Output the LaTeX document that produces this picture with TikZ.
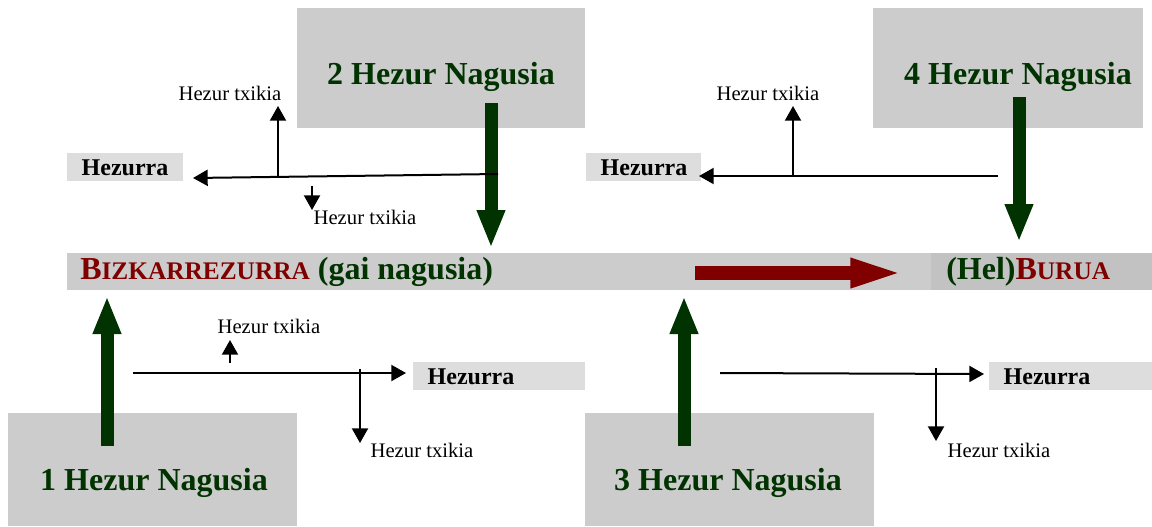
\documentclass[tikz,border=0pt]{standalone}
\usepackage{fontspec}
\setmainfont{Liberation Serif}
\usetikzlibrary{arrows.meta,fit}
\definecolor{boxgray}{HTML}{CCCCCC}
\definecolor{hezgray}{HTML}{DDDDDD}
\definecolor{headgray}{HTML}{C2C2C2}
\definecolor{dgreen}{HTML}{003300}
\definecolor{dred}{HTML}{800000}
\newcommand\fakesc[2]{#1{\fontsize{19}{20}\selectfont #2}}
\begin{document}
\begin{tikzpicture}[x=0.75pt,y=-0.75pt,
  bigbox/.style={fill=boxgray, draw=none, inner sep=0pt},
  hezbox/.style={fill=hezgray, draw=none, inner sep=0pt},
  bigtext/.style={text=dgreen, font=\fontsize{24}{28}\selectfont\bfseries, inner sep=0pt},
  twiglabel/.style={font=\fontsize{15.5}{18}\selectfont, inner sep=0pt},
  heztext/.style={font=\fontsize{18}{20}\selectfont\bfseries, inner sep=0pt},
  spinetext/.style={font=\fontsize{24}{28}\selectfont\bfseries, inner sep=0pt, anchor=base west},
  bone/.style={line width=9.75pt, draw=dgreen, -{Triangle[width=19.5pt,length=28.5pt,fill=dgreen]}},
  headarrow/.style={line width=10pt, draw=dred, -{Triangle[width=19.5pt,length=41pt,fill=dred]}},
  twig/.style={line width=1.5pt, draw=black, -{Triangle[width=12pt,length=11pt]}},
]
\useasboundingbox (0,0) rectangle (1152,526);

% spine band
\node[bigbox, fit={(67,253) (1152,290)}] (spine) {};
\node[fill=headgray, draw=none, inner sep=0pt, fit={(931,253) (1152,290)}] (head) {};
\node[spinetext] (spinelabel) at (80,279) {\textcolor{dred}{\fakesc{B}{IZKARREZURRA}} \textcolor{dgreen}{(gai nagusia)}};
\node[spinetext] (headlabel) at (946,279) {\textcolor{dgreen}{(Hel)}\textcolor{dred}{\fakesc{B}{URUA}}};

% main bone boxes
\node[bigbox, fit={(297,8) (585,128)}] (b2) {};
\node[bigbox, fit={(873,8) (1143,128)}] (b4) {};
\node[bigbox, fit={(8,413) (297,526)}] (b1) {};
\node[bigbox, fit={(585,413) (874,526)}] (b3) {};
\node[bigtext] (t2) at (441,77) {2 Hezur Nagusia};
\node[bigtext] (t4) at (1018,77) {4 Hezur Nagusia};
\node[bigtext] (t1) at (154,483) {1 Hezur Nagusia};
\node[bigtext] (t3) at (728,483) {3 Hezur Nagusia};

% Hezurra boxes
\node[hezbox, fit={(67,153) (183,181)}] (h2) {};
\node[hezbox, fit={(586,153) (701,181)}] (h4) {};
\node[hezbox, fit={(413,362) (585,390)}] (h1) {};
\node[hezbox, fit={(989,362) (1152,390)}] (h3) {};
\node[heztext] at (125,168) {Hezurra};
\node[heztext] at (644,168) {Hezurra};
\node[heztext] at (471,377) {Hezurra};
\node[heztext] at (1047,377) {Hezurra};

% small bone labels
\node[twiglabel] (s2a) at (230,93) {Hezur txikia};
\node[twiglabel] (s2b) at (365,217) {Hezur txikia};
\node[twiglabel] (s4a) at (768,93) {Hezur txikia};
\node[twiglabel] (s1a) at (269,326) {Hezur txikia};
\node[twiglabel] (s1b) at (422,450) {Hezur txikia};
\node[twiglabel] (s3a) at (999,450) {Hezur txikia};

% coordinates
\coordinate (g2s) at (491,103); \coordinate (g2e) at (491,248);
\coordinate (g4s) at (1019,97); \coordinate (g4e) at (1019,242);
\coordinate (g1s) at (107,446); \coordinate (g1e) at (107,296);
\coordinate (g3s) at (684,446); \coordinate (g3e) at (684,296);
\coordinate (rs) at (695,273); \coordinate (re) at (905,273);

\coordinate (m2s) at (498,174); \coordinate (m2e) at (193,178);
\coordinate (m2b) at (278,176); \coordinate (m2bt) at (278,106);
\coordinate (m2c) at (312,186); \coordinate (m2ct) at (312,210);
\coordinate (m4s) at (998,176); \coordinate (m4e) at (699,176);
\coordinate (m4b) at (793,176); \coordinate (m4bt) at (793,106);
\coordinate (m1s) at (133,373); \coordinate (m1e) at (406,373);
\coordinate (m1c) at (230,363); \coordinate (m1ct) at (230,340);
\coordinate (m1b) at (360,369); \coordinate (m1bt) at (360,443);
\coordinate (m3s) at (720,373); \coordinate (m3e) at (984,374);
\coordinate (m3b) at (936,368); \coordinate (m3bt) at (936,441);

% main bones
\draw[bone] (g2s) -- (g2e);
\draw[bone] (g4s) -- (g4e);
\draw[bone] (g1s) -- (g1e);
\draw[bone] (g3s) -- (g3e);
\draw[headarrow] (rs) -- (re);

% bones and twigs
\draw[twig] (m2s) -- (m2e);
\draw[twig] (m2b) -- (m2bt);
\draw[twig] (m2c) -- (m2ct);
\draw[twig] (m4s) -- (m4e);
\draw[twig] (m4b) -- (m4bt);
\draw[twig] (m1s) -- (m1e);
\draw[twig] (m1c) -- (m1ct);
\draw[twig] (m1b) -- (m1bt);
\draw[twig] (m3s) -- (m3e);
\draw[twig] (m3b) -- (m3bt);
\end{tikzpicture}
\end{document}
